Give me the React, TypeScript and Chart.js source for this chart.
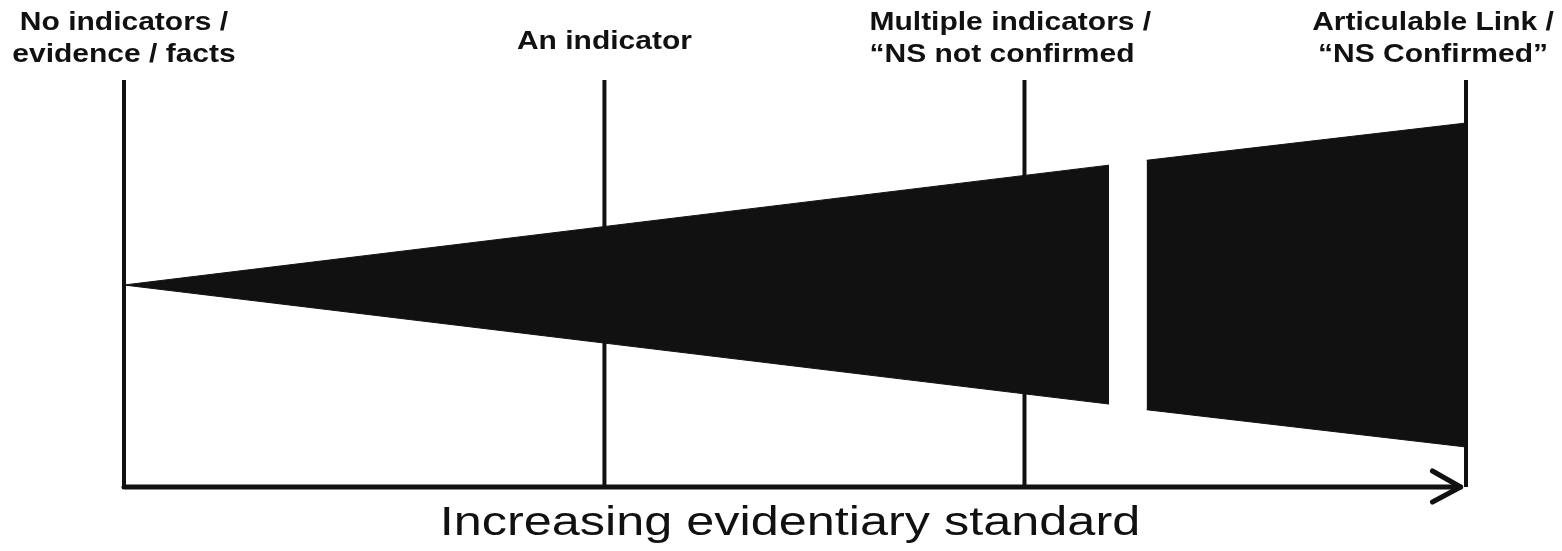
import React, { useEffect, useRef } from "react";
import { Chart, registerables } from "chart.js";

Chart.register(...registerables);

// Evidence markers along the horizontal axis (0 = no evidence, 100 = confirmed link)
const markerValues = [0, 35.8, 67.1, 100];
const markerLabels = [
  ["No indicators /", "evidence / facts"],
  ["An indicator"],
  ["Multiple indicators /", "\u201CNS not confirmed"],
  ["Articulable Link /", "\u201CNS Confirmed\u201D"],
];
const markerTop = 1.265;
const axisLevel = -1.247;

// Widening wedge, in two pieces separated by a gap
const wedgeNearX = [0, 73.4];
const wedgeNearUpper = [0, 0.74];
const wedgeNearLower = [0, -0.735];
const wedgeFarX = [76.2, 100];
const wedgeFarUpper = [0.77, 1.0];
const wedgeFarLower = [-0.77, -1.0];

// Arrow of the horizontal axis
const arrowTipX = 99.6;
const arrowArmX = 97.5;
const arrowArmUpper = -1.148;
const arrowArmLower = -1.34;

const axisTitle = "Increasing evidentiary standard";

const INK = "#111";

export default function App() {
  const ref = useRef<HTMLCanvasElement | null>(null);

  useEffect(() => {
    const canvas = ref.current;
    if (!canvas) return;

    const pts = (xs: number[], ys: number[]) => xs.map((x, i) => ({ x, y: ys[i] }));

    const lineDs = (data: { x: number; y: number }[], width: number) => ({
      data,
      showLine: true,
      borderColor: INK,
      borderWidth: width,
      pointRadius: 0,
      fill: false,
      clip: false as any,
      borderCapStyle: "round" as const,
      borderJoinStyle: "round" as const,
      tension: 0,
    });

    const datasets: any[] = [
      { ...lineDs(pts(wedgeNearX, wedgeNearUpper), 1), borderCapStyle: "butt" },
      { ...lineDs(pts(wedgeNearX, wedgeNearLower), 1), borderCapStyle: "butt", fill: "-1", backgroundColor: INK },
      { ...lineDs(pts(wedgeFarX, wedgeFarUpper), 1), borderCapStyle: "butt" },
      { ...lineDs(pts(wedgeFarX, wedgeFarLower), 1), borderCapStyle: "butt", fill: "-1", backgroundColor: INK },
    ];
    markerValues.forEach((v) => {
      datasets.push({ ...lineDs([{ x: v, y: axisLevel }, { x: v, y: markerTop }], 4), borderCapStyle: "butt" });
    });
    datasets.push(lineDs([{ x: markerValues[0], y: axisLevel }, { x: arrowTipX, y: axisLevel }], 5));
    datasets.push(
      lineDs(
        [
          { x: arrowArmX, y: arrowArmUpper },
          { x: arrowTipX, y: axisLevel },
          { x: arrowArmX, y: arrowArmLower },
        ],
        5
      )
    );

    const labelShift = [0, 0, -155, -33];
    const labelAlign = ["center", "center", "left", "center"];
    const LABEL_STRETCH = 1.2;
    const TITLE_STRETCH = 1.26;

    const stretchedText = (ctx: any, text: string, x: number, y: number, sx: number) => {
      ctx.save();
      ctx.translate(x, y);
      ctx.scale(sx, 1);
      ctx.fillText(text, 0, 0);
      ctx.restore();
    };

    const textPlugin = {
      id: "diagramText",
      afterDraw(chart: any) {
        const ctx = chart.ctx;
        const xs = chart.scales.x;
        const area = chart.chartArea;
        ctx.save();
        ctx.fillStyle = INK;
        ctx.textBaseline = "alphabetic";
        ctx.font = "bold 25px 'Liberation Sans', Arial, sans-serif";
        markerLabels.forEach((lines, i) => {
          const x = xs.getPixelForValue(markerValues[i]) + labelShift[i];
          ctx.textAlign = labelAlign[i];
          if (lines.length === 1) {
            stretchedText(ctx, lines[0], x, 49, LABEL_STRETCH);
          } else {
            lines.forEach((ln, j) => stretchedText(ctx, ln, x, 30 + j * 32, LABEL_STRETCH));
          }
        });
        ctx.textAlign = "center";
        ctx.font = "40px 'Liberation Sans', Arial, sans-serif";
        stretchedText(ctx, axisTitle, (area.left + area.right) / 2 - 5, 535, TITLE_STRETCH);
        ctx.restore();
      },
    };

    const chart = new Chart(canvas, {
      type: "scatter",
      data: { datasets },
      options: {
        animation: false,
        responsive: false,
        events: [],
        layout: { padding: { left: 124, right: 96, top: 78, bottom: 64 } },
        plugins: { legend: { display: false }, tooltip: { enabled: false }, title: { display: false } },
        scales: {
          x: { type: "linear", display: false, min: 0, max: 100 },
          y: { type: "linear", display: false, min: -1.247, max: 1.278 },
        },
      },
      plugins: [textPlugin],
    });

    return () => chart.destroy();
  }, []);

  return (
    <div style={{ position: "fixed", left: 0, top: 0, width: 1562, height: 551, background: "#fff" }}>
      <canvas ref={ref} width={1562} height={551} style={{ display: "block" }} />
    </div>
  );
}
